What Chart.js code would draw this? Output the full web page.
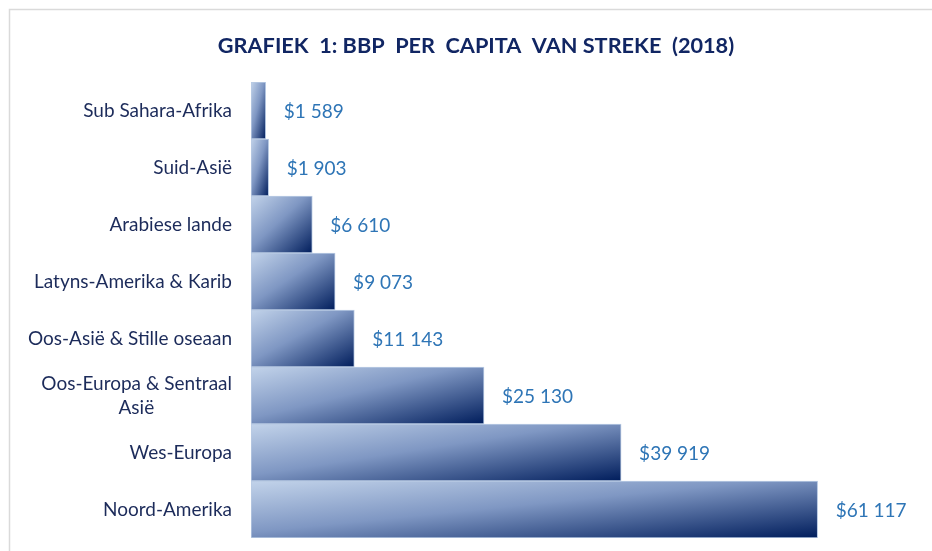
<!DOCTYPE html>
<html>
<head>
<meta charset="utf-8">
<script src="https://cdn.jsdelivr.net/npm/chart.js@4/dist/chart.umd.min.js"></script>
<style>
  html, body { margin: 0; padding: 0; background: #fff; }
  #wrap { width: 932px; height: 551px; position: relative; }
</style>
</head>
<body>
<div id="wrap"><canvas id="chart"></canvas></div>
<script>
// Data
const regions = [
    'Sub Sahara-Afrika',
    'Suid-Asië',
    'Arabiese lande',
    'Latyns-Amerika & Karib',
    'Oos-Asië & Stille oseaan',
    ['Oos-Europa & Sentraal', 'Asië'],
    'Wes-Europa',
    'Noord-Amerika'
];
const gdpPerCapita = [1589, 1903, 6610, 9073, 11143, 25130, 39919, 61117];

const TITLE = 'GRAFIEK  1: BBP  PER  CAPITA  VAN STREKE  (2018)';
const FONT = 'Lato, "Open Sans", sans-serif';

// "$61 117" style: space as thousands separator
function formatDollar(v) {
    return '$' + String(v).replace(/\B(?=(\d{3})+(?!\d))/g, ' ');
}

// diagonal gradient, light top-left to navy bottom-right (corner to corner like Excel)
function barGradient(context) {
    const chart = context.chart;
    if (!chart.chartArea || context.type !== 'data') return '#5a74a8';
    const xs = chart.scales.x, ys = chart.scales.y;
    const left = xs.getPixelForValue(0);
    const right = xs.getPixelForValue(context.raw);
    const step = (chart.chartArea.bottom - chart.chartArea.top) / regions.length;
    const cy = ys.getPixelForValue(context.dataIndex);
    const top = cy - step / 2, bottom = cy + step / 2;
    const w = right - left, h = bottom - top;
    const cx = (left + right) / 2;
    const k = (w * h) / (w * w + h * h);
    const g = chart.ctx.createLinearGradient(cx - h * k, cy - w * k, cx + h * k, cy + w * k);
    g.addColorStop(0, '#c2d3ea');
    g.addColorStop(0.45, '#7f97c3');
    g.addColorStop(1, '#001d5c');
    return g;
}

const valueLabels = {
    id: 'valueLabels',
    afterDatasetsDraw(chart) {
        const ctx = chart.ctx;
        const meta = chart.getDatasetMeta(0);
        ctx.save();
        ctx.font = '19px ' + FONT;
        ctx.fillStyle = '#2e75b6';
        ctx.textAlign = 'left';
        ctx.textBaseline = 'middle';
        meta.data.forEach((bar, i) => {
            ctx.fillText(formatDollar(gdpPerCapita[i]), bar.x + 18, bar.y + 1);
        });
        ctx.restore();
    }
};

// light frame at left/top plus the title (centred a bit right of the canvas middle)
const frameAndTitle = {
    id: 'frameAndTitle',
    beforeDraw(chart) {
        const ctx = chart.ctx;
        ctx.save();
        ctx.strokeStyle = '#dadada';
        ctx.lineWidth = 1.5;
        ctx.beginPath();
        ctx.moveTo(9.5, chart.height);
        ctx.lineTo(9.5, 9.5);
        ctx.lineTo(chart.width, 9.5);
        ctx.stroke();

        ctx.font = 'bold 21.7px ' + FONT;
        ctx.fillStyle = '#112663';
        ctx.textAlign = 'center';
        ctx.textBaseline = 'middle';
        ctx.fillText(TITLE, 476, 46);
        ctx.restore();
    }
};

const ctx = document.getElementById('chart').getContext('2d');
new Chart(ctx, {
    type: 'bar',
    data: {
        labels: regions,
        datasets: [{
            data: gdpPerCapita,
            backgroundColor: barGradient,
            borderColor: 'rgba(176, 196, 224, 0.9)',
            borderWidth: 1,
            borderSkipped: false,
            barPercentage: 1,
            categoryPercentage: 1
        }]
    },
    options: {
        indexAxis: 'y',
        responsive: true,
        maintainAspectRatio: false,
        animation: false,
        layout: { padding: { left: 0, right: 32, top: 82, bottom: 13 } },
        scales: {
            x: {
                display: false,
                min: 0,
                max: 70000
            },
            y: {
                grid: { display: false, drawTicks: false },
                border: { display: false },
                ticks: {
                    color: '#1c2b5a',
                    font: { family: FONT, size: 19, lineHeight: 1.25 },
                    padding: 19,
                    // second line of a wrapped label is centred under the first, as in the source
                    callback(value, index) {
                        const lbl = regions[index];
                        if (!Array.isArray(lbl)) return lbl;
                        const c = this.ctx;
                        c.save();
                        c.font = '19px ' + FONT;
                        const w0 = c.measureText(lbl[0]).width;
                        const w1 = c.measureText(lbl[1]).width;
                        const sp = c.measureText(' ').width;
                        c.restore();
                        const n = Math.round((w0 - w1) / 2 / sp);
                        return [lbl[0], lbl[1] + ' '.repeat(n)];
                    }
                },
                afterFit(scale) {
                    scale.width = 251;
                    scale.paddingTop = 0;
                    scale.paddingBottom = 0;
                }
            }
        },
        plugins: {
            legend: { display: false },
            tooltip: { enabled: false },
            title: { display: false }
        }
    },
    plugins: [valueLabels, frameAndTitle]
});
</script>
</body>
</html>
